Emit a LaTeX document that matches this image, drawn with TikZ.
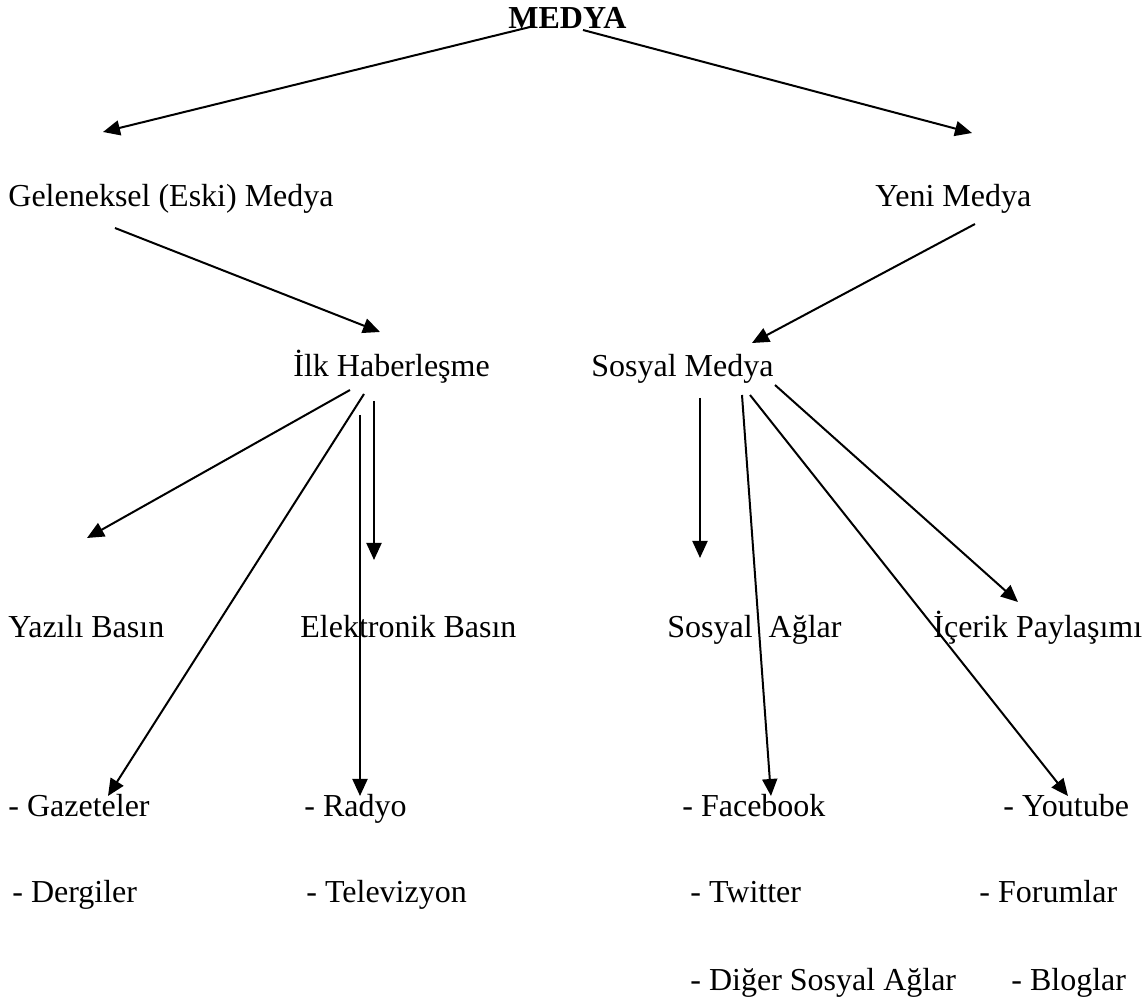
\documentclass[tikz,border=0pt]{standalone}
\usepackage{fontspec}
\setmainfont{Liberation Serif}
\usetikzlibrary{arrows.meta}
\tikzset{
  lbl/.style={inner sep=0pt, anchor=base west, font=\fontsize{16}{19}\selectfont},
  ttl/.style={inner sep=0pt, anchor=base west, font=\fontsize{16}{19}\selectfont\bfseries},
  arr/.style={line width=1pt, -{Triangle[length=8.5pt,width=7.5pt]}}
}
\begin{document}
\begin{tikzpicture}[x=0.5pt,y=-0.5pt]
\useasboundingbox (0,0) rectangle (1148,1000);
% labels
\node[ttl] (medya) at (508,29) {MEDYA};
\node[lbl] (geleneksel) at (8,207) {Geleneksel (Eski) Medya};
\node[lbl] (yeni) at (875,207) {Yeni Medya};
\node[lbl] (ilk) at (293,377) {İlk Haberleşme};
\node[lbl] (sosyal) at (591,377) {Sosyal Medya};
\node[lbl] (yazili) at (8,638) {Yazılı Basın};
\node[lbl] (elektronik) at (300,638) {Elektronik Basın};
\node[lbl] (aglar) at (667,638) {Sosyal~~Ağlar};
\node[lbl] (icerik) at (933,638) {İçerik Paylaşımı};
\node[lbl] (gazeteler) at (8,816) {- Gazeteler};
\node[lbl] (dergiler) at (12,902) {- Dergiler};
\node[lbl] (radyo) at (304,816) {- Radyo};
\node[lbl] (televizyon) at (306,902) {- Televizyon};
\node[lbl] (facebook) at (682,816) {- Facebook};
\node[lbl] (twitter) at (690,902) {- Twitter};
\node[lbl] (diger) at (690,990) {- Diğer Sosyal Ağlar};
\node[lbl] (youtube) at (1003,816) {- Youtube};
\node[lbl] (forumlar) at (979,902) {- Forumlar};
\node[lbl] (bloglar) at (1011,990) {- Bloglar};
% connector end points
\coordinate (m1) at (530,27);
\coordinate (m1e) at (103,132);
\coordinate (m2) at (583,30);
\coordinate (m2e) at (972,133);
\coordinate (g1) at (115,228);
\coordinate (g1e) at (380,332);
\coordinate (y1) at (975,224);
\coordinate (y1e) at (752,343);
\coordinate (i1) at (350,390);
\coordinate (i1e) at (87,538);
\coordinate (i2) at (364,394);
\coordinate (i2e) at (108,796);
\coordinate (i3) at (360,415);
\coordinate (i3e) at (360,796);
\coordinate (i4) at (374,401);
\coordinate (i4e) at (374,560);
\coordinate (s1) at (700,398);
\coordinate (s1e) at (700,558);
\coordinate (s2) at (742,395);
\coordinate (s2e) at (771,796);
\coordinate (s3) at (750,395);
\coordinate (s3e) at (1068,796);
\coordinate (s4) at (775,385);
\coordinate (s4e) at (1018,602);
% connectors
\draw[arr] (m1) -- (m1e);
\draw[arr] (m2) -- (m2e);
\draw[arr] (g1) -- (g1e);
\draw[arr] (y1) -- (y1e);
\draw[arr] (i1) -- (i1e);
\draw[arr] (i2) -- (i2e);
\draw[arr] (i3) -- (i3e);
\draw[arr] (i4) -- (i4e);
\draw[arr] (s1) -- (s1e);
\draw[arr] (s2) -- (s2e);
\draw[arr] (s3) -- (s3e);
\draw[arr] (s4) -- (s4e);
\end{tikzpicture}
\end{document}
